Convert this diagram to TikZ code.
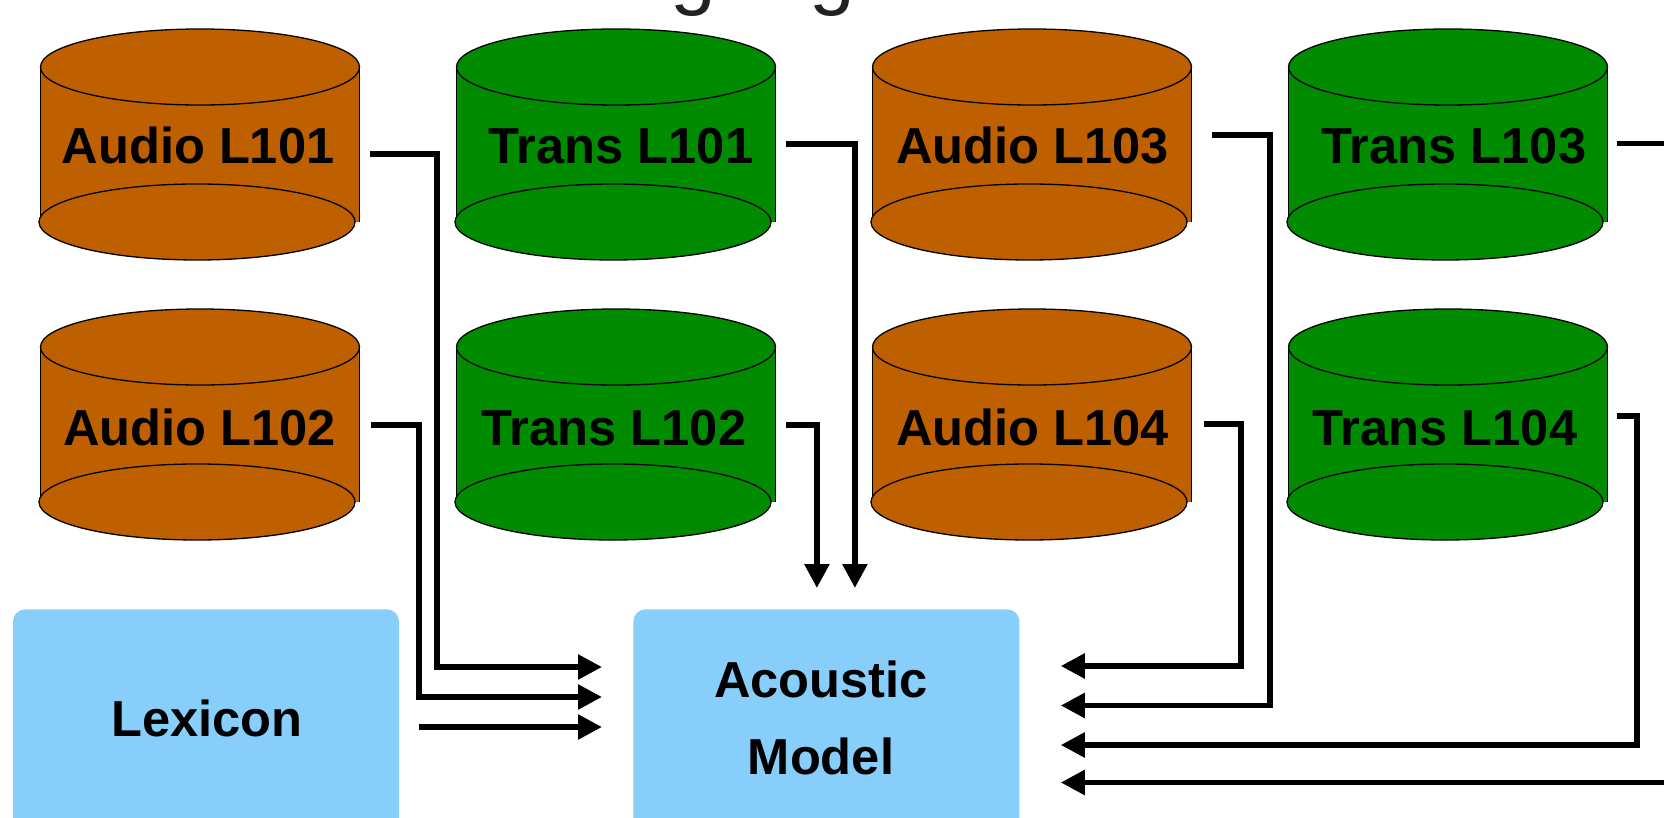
\documentclass[tikz,border=0pt]{standalone}
\usepackage{fontspec}
\setmainfont{Liberation Sans}
\usetikzlibrary{arrows.meta,calc}

\definecolor{audiofill}{RGB}{191,96,0}
\definecolor{transfill}{RGB}{0,139,0}
\definecolor{modelfill}{RGB}{135,206,250}
\definecolor{titlegray}{RGB}{34,34,34}

% upright drum: #1 centre x, #2 y of the top ellipse centre, #3 fill colour
\newcommand{\drum}[3]{%
  \fill[#3] (#1-159.5,#2) rectangle (#1+159.5,#2+155);
  \draw[drumline] (#1-159.5,#2) -- ++(0,155) (#1+159.5,#2) -- ++(0,155);
  \filldraw[drumline, fill=#3] (#1-3,#2+155) ellipse [x radius=158, y radius=38];
  \filldraw[drumline, fill=#3] (#1,#2) ellipse [x radius=159.5, y radius=38];
}

\begin{document}
\begin{tikzpicture}[x=0.5pt, y=-0.5pt,
  drumline/.style={draw=black, line width=0.65pt},
  drumlabel/.style={anchor=base, inner sep=0pt, font=\fontsize{25.3}{30}\selectfont\bfseries},
  boxlabel/.style={inner sep=0pt, font=\fontsize{25.3}{38.5}\selectfont\bfseries},
  softbox/.style={fill=modelfill, draw=none, rounded corners=6pt, inner sep=0pt,
                  minimum width=193pt, minimum height=136pt, anchor=north west},
  titleg/.style={anchor=base west, inner sep=0pt, text=titlegray, font=\fontsize{41}{41}\selectfont},
  conn/.style={line width=2.8pt, -{Triangle[length=12pt,width=12pt]}}
]
\useasboundingbox (0,0) rectangle (1664,818);

% descenders of the heading above
\node[titleg] (g1) at (670,0) {g};
\node[titleg] (g2) at (809,0) {g};

% data stores
\drum{200}{67}{audiofill}
\drum{616}{67}{transfill}
\drum{1032}{67}{audiofill}
\drum{1448}{67}{transfill}
\drum{200}{347}{audiofill}
\drum{616}{347}{transfill}
\drum{1032}{347}{audiofill}
\drum{1448}{347}{transfill}

\node[drumlabel] (A101) at (198,164) {Audio L101};
\node[drumlabel] (T101) at (621,164) {Trans L101};
\node[drumlabel] (A103) at (1032.6,164) {Audio L103};
\node[drumlabel] (T103) at (1454,164) {Trans L103};
\node[drumlabel] (A102) at (199.5,445) {Audio L102};
\node[drumlabel] (T102) at (614,445) {Trans L102};
\node[drumlabel] (A104) at (1032.6,445) {Audio L104};
\node[drumlabel] (T104) at (1445,445) {Trans L104};

% lower boxes
\node[softbox] (Lex) at (12.6,609) {};
\node[softbox] (AM) at (633,609) {};
\node[boxlabel, anchor=base] (lexname) at (207,736) {Lexicon};
\node[boxlabel, anchor=north, align=center] (amname) at (821,660.8) {Acoustic\\Model};

% connector ports
\coordinate (A101o) at (370,154);
\coordinate (A102o) at (371,425);
\coordinate (T101o) at (786,144);
\coordinate (T102o) at (786,425);
\coordinate (A103o) at (1212,135);
\coordinate (A104o) at (1204,424);
\coordinate (T103o) at (1617,143.5);
\coordinate (T104o) at (1617,416);
\coordinate (LexO) at ($(Lex.north east)+(20,118)$);

% arrow tips around the acoustic model
\coordinate (AMin1) at ($(AM.north west)+(-31,58)$);
\coordinate (AMin2) at ($(AM.north west)+(-31,88)$);
\coordinate (AMin3) at ($(AM.north west)+(-31,118)$);
\coordinate (AMtop1) at ($(AM.north)+(-9.5,-21)$);
\coordinate (AMtop2) at ($(AM.north)+(28.5,-21)$);
\coordinate (AMr1) at ($(AM.north east)+(41,57)$);
\coordinate (AMr2) at ($(AM.north east)+(41,96.5)$);
\coordinate (AMr3) at ($(AM.north east)+(41,136)$);
\coordinate (AMr4) at ($(AM.north east)+(41,173.5)$);

% connectors
\draw[conn] (A101o) -- ++(67,0) |- (AMin1);
\draw[conn] (A102o) -- ++(48,0) |- (AMin2);
\draw[conn] (LexO) -- (AMin3);
\draw[conn] (T101o) -| (AMtop2);
\draw[conn] (T102o) -| (AMtop1);
\draw[conn] (A104o) -- ++(37,0) |- (AMr1);
\draw[conn] (A103o) -- ++(58,0) |- (AMr2);
\draw[conn] (T104o) -- ++(20,0) |- (AMr3);
\draw[conn] (T103o) -- ++(90,0) |- (AMr4);
\end{tikzpicture}
\end{document}
